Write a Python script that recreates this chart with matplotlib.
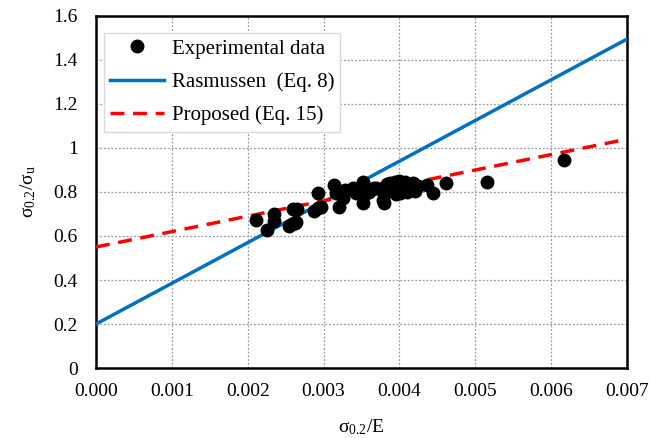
import matplotlib
matplotlib.use("Agg")
import matplotlib.pyplot as plt
import numpy as np

plt.rcParams["font.family"] = ["Liberation Serif", "DejaVu Serif"]
plt.rcParams["mathtext.fontset"] = "custom"
plt.rcParams["mathtext.rm"] = "Liberation Serif"
plt.rcParams["mathtext.it"] = "Liberation Serif:italic"

# experimental points, sigma_0.2/E vs sigma_0.2/sigma_u
exp_x = [0.00211, 0.00225, 0.00234, 0.00235, 0.00254, 0.00258, 0.00260, 0.00265,
         0.00262, 0.00264, 0.00288, 0.00292, 0.00296, 0.00293, 0.00314, 0.00316,
         0.00320, 0.00325, 0.00328, 0.00339, 0.00343, 0.00352, 0.00352, 0.00356,
         0.00360, 0.00366, 0.00369, 0.00374, 0.00378, 0.00380, 0.00382, 0.00384,
         0.00386, 0.00388, 0.00390, 0.00392, 0.00394, 0.00396, 0.00398, 0.00400,
         0.00402, 0.00404, 0.00406, 0.00408, 0.00410, 0.00413, 0.00416, 0.00420,
         0.00424, 0.00418, 0.00395, 0.00401, 0.00437, 0.00444, 0.00462, 0.00516,
         0.00617]
exp_y = [0.673, 0.627, 0.700, 0.670, 0.645, 0.655, 0.721, 0.721,
         0.658, 0.665, 0.715, 0.794, 0.730, 0.725, 0.832, 0.797,
         0.730, 0.771, 0.809, 0.817, 0.794, 0.847, 0.749, 0.794,
         0.800, 0.820, 0.817, 0.812, 0.764, 0.749, 0.825, 0.835,
         0.805, 0.840, 0.815, 0.830, 0.845, 0.800, 0.825, 0.850,
         0.810, 0.835, 0.820, 0.845, 0.800, 0.830, 0.815, 0.805,
         0.825, 0.840, 0.790, 0.795, 0.832, 0.794, 0.839, 0.845,
         0.944]

line_x = [0.0, 0.007]
rasmussen_y = [0.2 + 185 * v for v in line_x]
proposed_y = [0.55 + 70 * v for v in line_x]

fig = plt.figure(figsize=(6.5, 4.38), dpi=100)
ax = fig.add_axes([0.1477, 0.1598, 0.8169, 0.8037])

ax.plot(exp_x, exp_y, "o", color="black", markersize=9, label="Experimental data",
        zorder=4, linestyle="none")
ax.plot(line_x, rasmussen_y, color="#0070C0", lw=2.5, label="Rasmussen  (Eq. 8)", zorder=3)
ax.plot(line_x, proposed_y, color="#FF0000", lw=2.5, ls=(0, (4, 2.5)),
        label="Proposed (Eq. 15)", zorder=3)

ax.set_xlim(0, 0.007)
ax.set_ylim(0, 1.6)
ax.set_xticks(np.arange(0, 0.0071, 0.001))
ax.set_xticklabels([f"{v:.3f}" for v in np.arange(0, 0.0071, 0.001)])
yt = np.arange(0, 1.61, 0.2)
ax.set_yticks(yt)
ax.set_yticklabels(["0", "0.2", "0.4", "0.6", "0.8", "1", "1.2", "1.4", "1.6"])
ax.tick_params(axis="x", length=0, labelsize=14, pad=11)
ax.tick_params(axis="y", length=0, labelsize=14, pad=13)
ax.grid(True, color="#999999", ls=(0, (1.5, 1.5)), lw=0.9)
for s in ax.spines.values():
    s.set_linewidth(1.8)

ax.set_xlabel(r"σ$_{\rm 0.2}$/E", fontsize=14, labelpad=12)
ax.set_ylabel(r"σ$_{\rm 0.2}$/σ$_{\rm u}$", fontsize=14, labelpad=11)

leg = ax.legend(loc="upper left", bbox_to_anchor=(0.015, 0.952), fontsize=15,
                fancybox=False, framealpha=1, edgecolor="#d9d9d9",
                handlelength=2.6, handletextpad=0.35, borderpad=0.3,
                labelspacing=0.65, borderaxespad=0)
leg.get_frame().set_linewidth(1.0)

fig.savefig("out.png", dpi=100)
